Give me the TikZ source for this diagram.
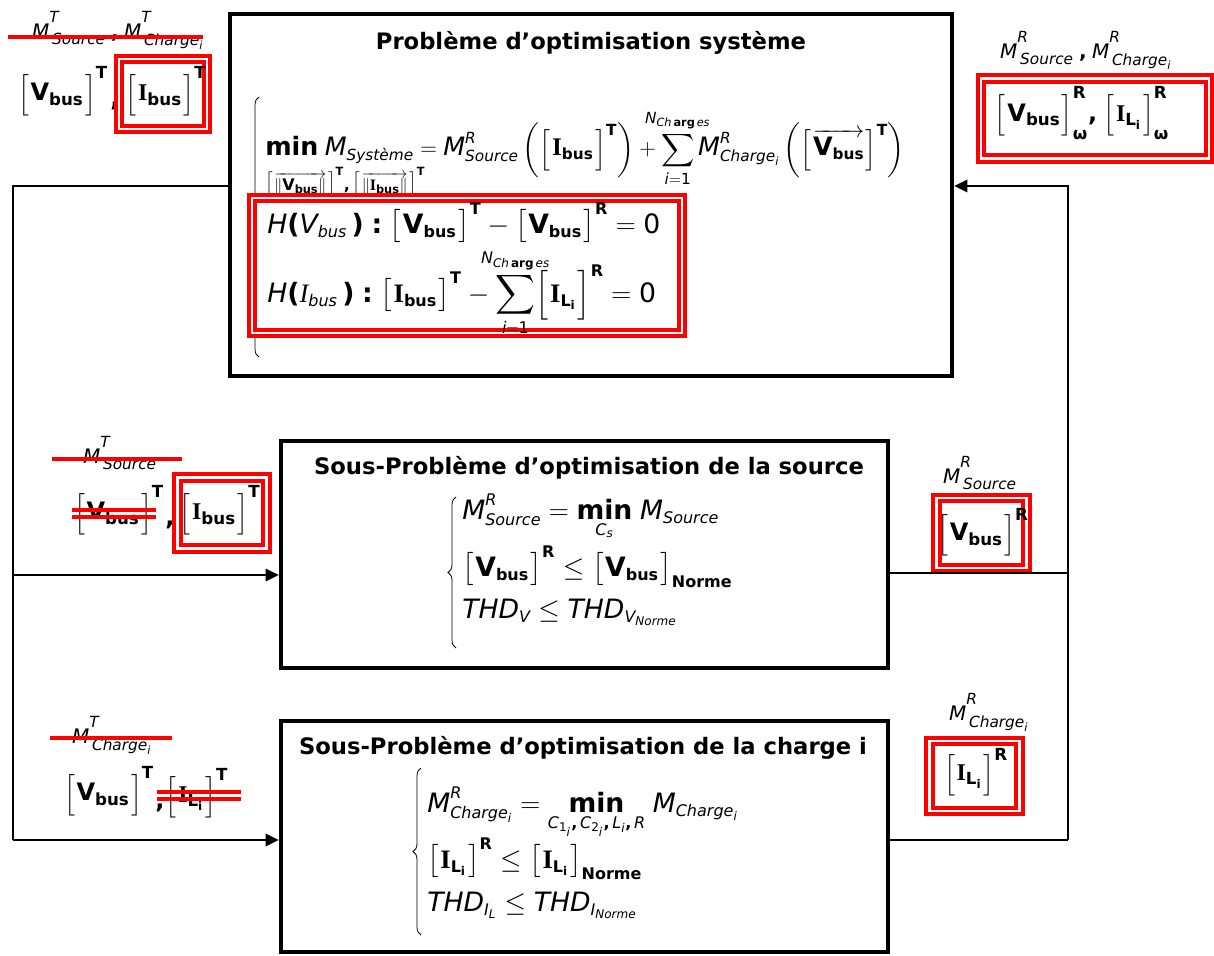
\documentclass[tikz,border=0pt]{standalone}
\usepackage{amsmath}
\usepackage{mathtools}
\usepackage[no-math]{fontspec}
\setmainfont{DejaVu Sans}
\newfontfamily\tnrfont{Liberation Serif}
\usetikzlibrary{arrows.meta,decorations.pathreplacing}
\DeclareMathSizes{20}{20}{12}{9}
\DeclareMathSizes{19}{19}{11.5}{8.5}
\DeclareMathSizes{18}{18}{12.5}{9}
\DeclareMathSizes{15}{15}{11.5}{8.5}
\DeclareMathSizes{12}{12}{8.5}{6}
\newcommand{\xIt}[1]{\text{\normalfont\itshape #1}}
\newcommand{\xBf}[1]{\text{\normalfont\bfseries #1}}
\newcommand{\xSerB}[1]{\text{\normalfont\tnrfont\bfseries #1}}
\newcommand{\xSerI}[1]{\text{\normalfont\tnrfont\itshape #1}}
\newcommand{\VbB}{\xBf{V}_{\xBf{bus}}}
\newcommand{\IbB}{\xSerB{I}_{\xBf{bus}}}
\newcommand{\ILi}{\xSerB{I}_{\xBf{L}_{\xBf{i}}}}
\newcommand{\Nch}{\xIt{N}_{\xIt{Ch}\,\xBf{arg}\,\xIt{es}}}
\newcommand{\xbr}[2][1.35em]{\mathopen{\hbox{$\left[\vcenter to #1{}\right.$}}#2\mathclose{\hbox{$\left.\vcenter to #1{}\right]$}}}
\newcommand{\xMl}[2]{\xIt{M}^{\text{\normalfont\itshape\raisebox{0.55em}{#1}}}_{\kern2pt #2}}
\tikzset{
  bigbox/.style={draw=black, line width=3pt, inner sep=0pt, fill=none},
  dred/.style={draw=red, line width=3pt, double=white, double distance=2.2pt, inner sep=0pt},
  strike/.style={draw=red, line width=2.4pt},
  conn/.style={draw=black, line width=2.2pt},
  arr/.style={conn, -{Triangle[length=10pt,width=9pt]}},
  brc/.style={draw=black, line width=0.6pt, decorate, decoration={brace, amplitude=6pt}},
  ttl/.style={font=\fontsize{17}{20}\selectfont\bfseries, inner sep=0pt},
  eqbig/.style={font=\fontsize{20}{24}\selectfont, inner sep=0pt, anchor=base west},
  eqone/.style={font=\fontsize{19}{23}\selectfont, inner sep=0pt, anchor=base west},
  lab/.style={font=\fontsize{15}{18}\selectfont, inner sep=0pt},
  labb/.style={font=\fontsize{18}{22}\selectfont, inner sep=0pt}
}
\begin{document}
\begin{tikzpicture}[x=0.75pt, y=-0.75pt]
\useasboundingbox (0,0) rectangle (1214,956);
% boxes
\node[bigbox, minimum width=541.5pt, minimum height=271.5pt] (top) at (591,195) {};
\node[bigbox, minimum width=455.25pt, minimum height=170.25pt] (mid) at (584.5,554.5) {};
\node[bigbox, minimum width=455.25pt, minimum height=173.25pt] (bot) at (584.5,836.5) {};
% titles
\node[ttl] (t1) at (591,43) {Problème d’optimisation système};
\node[ttl] (t2) at (589,468) {Sous-Problème d’optimisation de la source};
\node[ttl] (t3) at (583,748) {Sous-Problème d’optimisation de la charge i};
% top box equations
\draw[brc] (259,357) -- (259,97);
\node[eqone] (e1) at (265,156) {$\displaystyle\xBf{min}\;\xIt{M}_{\xIt{Système}} = \xIt{M}^{\xIt{R}}_{\xIt{Source}}\left(\xbr{\IbB}^{\xBf{T}}\right) + \sum_{\xIt{i}=\text{1}}^{\mathclap{\Nch}}\xIt{M}^{\xIt{R}}_{\xIt{Charge}_{\xIt{i}}}\left(\xbr{\overrightarrow{\VbB}}^{\xBf{T}}\right)$};
\node[font=\fontsize{12}{14}\selectfont, inner sep=0pt, anchor=west] (e1s) at (265,184) {$\xbr[1.4em]{\overrightarrow{\|\VbB\|}}^{\xBf{T}}\xBf{,}\,\xbr[1.4em]{\overrightarrow{\|\IbB\|}}^{\xBf{T}}$};
\node[dred, minimum width=322.5pt, minimum height=101.25pt] (rb3) at (467,265.5) {};
\node[eqbig] (e2) at (267,233) {$\xIt{H}\xBf{(}\xIt{V}_{\xIt{bus}}\,\xBf{)}\;\xBf{:}\;\xbr{\VbB}^{\xBf{T}} - \xbr{\VbB}^{\xBf{R}} = \text{0}$};
\node[eqbig] (e3) at (267,302) {$\displaystyle\xIt{H}\xBf{(}\xSerI{I}_{\xIt{bus}}\,\xBf{)}\;\xBf{:}\;\xbr{\IbB}^{\xBf{T}} - \sum_{\xIt{i}=\text{1}}^{\mathclap{\Nch}}\xbr[1.5em]{\ILi}^{\xBf{R}} = \text{0}$};
% middle box equations
\draw[brc] (456,648) -- (456,497);
\node[eqbig] (m1) at (462,519) {$\xIt{M}^{\xIt{R}}_{\xIt{Source}} = \underset{\xIt{C}_{\xIt{s}}}{\xBf{min}}\;\xIt{M}_{\xIt{Source}}$};
\node[eqbig] (m2) at (462,576) {$\xbr{\VbB}^{\xBf{R}} \le \xbr{\VbB}_{\xBf{Norme}}$};
\node[eqbig] (m3) at (462,618) {$\xIt{THD}_{\xIt{V}} \le \xIt{THD}_{\xIt{V}_{\xIt{Norme}}}$};
% bottom box equations
\draw[brc] (421,935) -- (421,768);
\node[eqbig] (b1) at (427,812) {$\xIt{M}^{\xIt{R}}_{\xIt{Charge}_{\xIt{i}}} = \underset{\xIt{C}_{\text{1}_{\xIt{i}}}\xBf{,}\,\xIt{C}_{\text{2}_{\xIt{i}}}\xBf{,}\,\xIt{L}_{\xIt{i}}\xBf{,}\,\xIt{R}}{\xBf{min}}\;\xIt{M}_{\xIt{Charge}_{\xIt{i}}}$};
\node[eqbig] (b2) at (427,868) {$\xbr{\ILi}^{\xBf{R}} \le \xbr{\ILi}_{\xBf{Norme}}$};
\node[eqbig] (b3) at (427,911) {$\xIt{THD}_{\xIt{I}_{\xIt{L}}} \le \xIt{THD}_{\xIt{I}_{\xIt{Norme}}}$};
% top-left labels
\node[lab] (tl1) at (118,30) {$\xMl{T}{\xIt{Source}}\;\xBf{,}\;\xMl{T}{\xIt{Charge}_{\xIt{i}}}$};
\draw[strike] (8,37) -- (203,37);
\node[labb] (tl2) at (63,92) {$\xbr[1.9em]{\VbB}^{\xBf{T}}$};
\node[labb] (tl3) at (115,106) {$\xBf{,}$};
\node[dred, minimum width=66pt, minimum height=52.5pt] (rb1) at (163,94) {};
\node[labb] (tl4) at (166,92) {$\xbr[1.9em]{\IbB}^{\xBf{T}}$};
% top-right labels
\node[lab] (tr1) at (1086,50) {$\xMl{R}{\xIt{Source}}\;\xBf{,}\;\xMl{R}{\xIt{Charge}_{\xIt{i}}}$};
\node[dred, minimum width=171pt, minimum height=60pt] (rb2) at (1095,118.5) {};
\node[labb] (tr2) at (1082,113) {$\xbr[1.9em]{\VbB}^{\xBf{R}}_{\xBf{ω}}\xBf{,}\;\xbr[1.9em]{\ILi}^{\xBf{R}}_{\xBf{ω}}$};
% middle-left labels
\node[lab] (ml1) at (120,453) {$\xMl{T}{\xIt{Source}}$};
\draw[strike] (52,459) -- (182,459);
\node[labb] (ml2) at (119,511) {$\xbr[1.9em]{\VbB}^{\xBf{T}}$};
\draw[strike] (72,510) -- (156,510);
\draw[strike] (72,517) -- (156,517);
\node[labb] (ml3) at (170,525) {$\xBf{,}$};
\node[dred, minimum width=67pt, minimum height=53pt] (rb4) at (222,513) {};
\node[labb] (ml4) at (220,511) {$\xbr[1.9em]{\IbB}^{\xBf{T}}$};
% middle-right labels
\node[lab] (mr1) at (980,473) {$\xMl{R}{\xIt{Source}}$};
\node[dred, minimum width=67pt, minimum height=52.5pt] (rb5) at (981.5,533) {};
\node[labb] (mr2) at (983,532) {$\xbr[1.45em]{\VbB}^{\xBf{R}}$};
% bottom-left labels
\node[lab] (bl1) at (112,735) {$\xMl{T}{\xIt{Charge}_{\xIt{i}}}$};
\draw[strike] (50,738) -- (172,738);
\node[labb] (bl2) at (109,792) {$\xbr[1.9em]{\VbB}^{\xBf{T}}$};
\node[labb] (bl3) at (160,808) {$\xBf{,}$};
\node[labb] (bl4) at (197,794) {$\xbr[1.9em]{\ILi}^{\xBf{T}}$};
\draw[strike] (157,792) -- (241,792);
\draw[strike] (157,799) -- (241,799);
% bottom-right labels
\node[lab] (br1) at (989,712) {$\xMl{R}{\xIt{Charge}_{\xIt{i}}}$};
\node[dred, minimum width=67pt, minimum height=52.5pt] (rb6) at (974.5,776) {};
\node[labb] (br2) at (976,772) {$\xbr[1.7em]{\ILi}^{\xBf{R}}$};
% connectors
\coordinate (L1) at (13,186);
\coordinate (Lm) at (13,575);
\coordinate (L3) at (13,840);
\coordinate (R1) at (1068,186);
\coordinate (Rm) at (1068,573);
\coordinate (R3) at (1068,840);
\draw[conn] (top.west |- L1) -- (L1) -- (L3);
\draw[arr] (Lm) -- (Lm -| mid.west);
\draw[arr] (L3) -- (L3 -| bot.west);
\draw[arr] (R3) -- (R1) -- (R1 -| top.east);
\draw[conn] (mid.east |- Rm) -- (Rm);
\draw[conn] (bot.east |- R3) -- (R3);
\end{tikzpicture}
\end{document}
